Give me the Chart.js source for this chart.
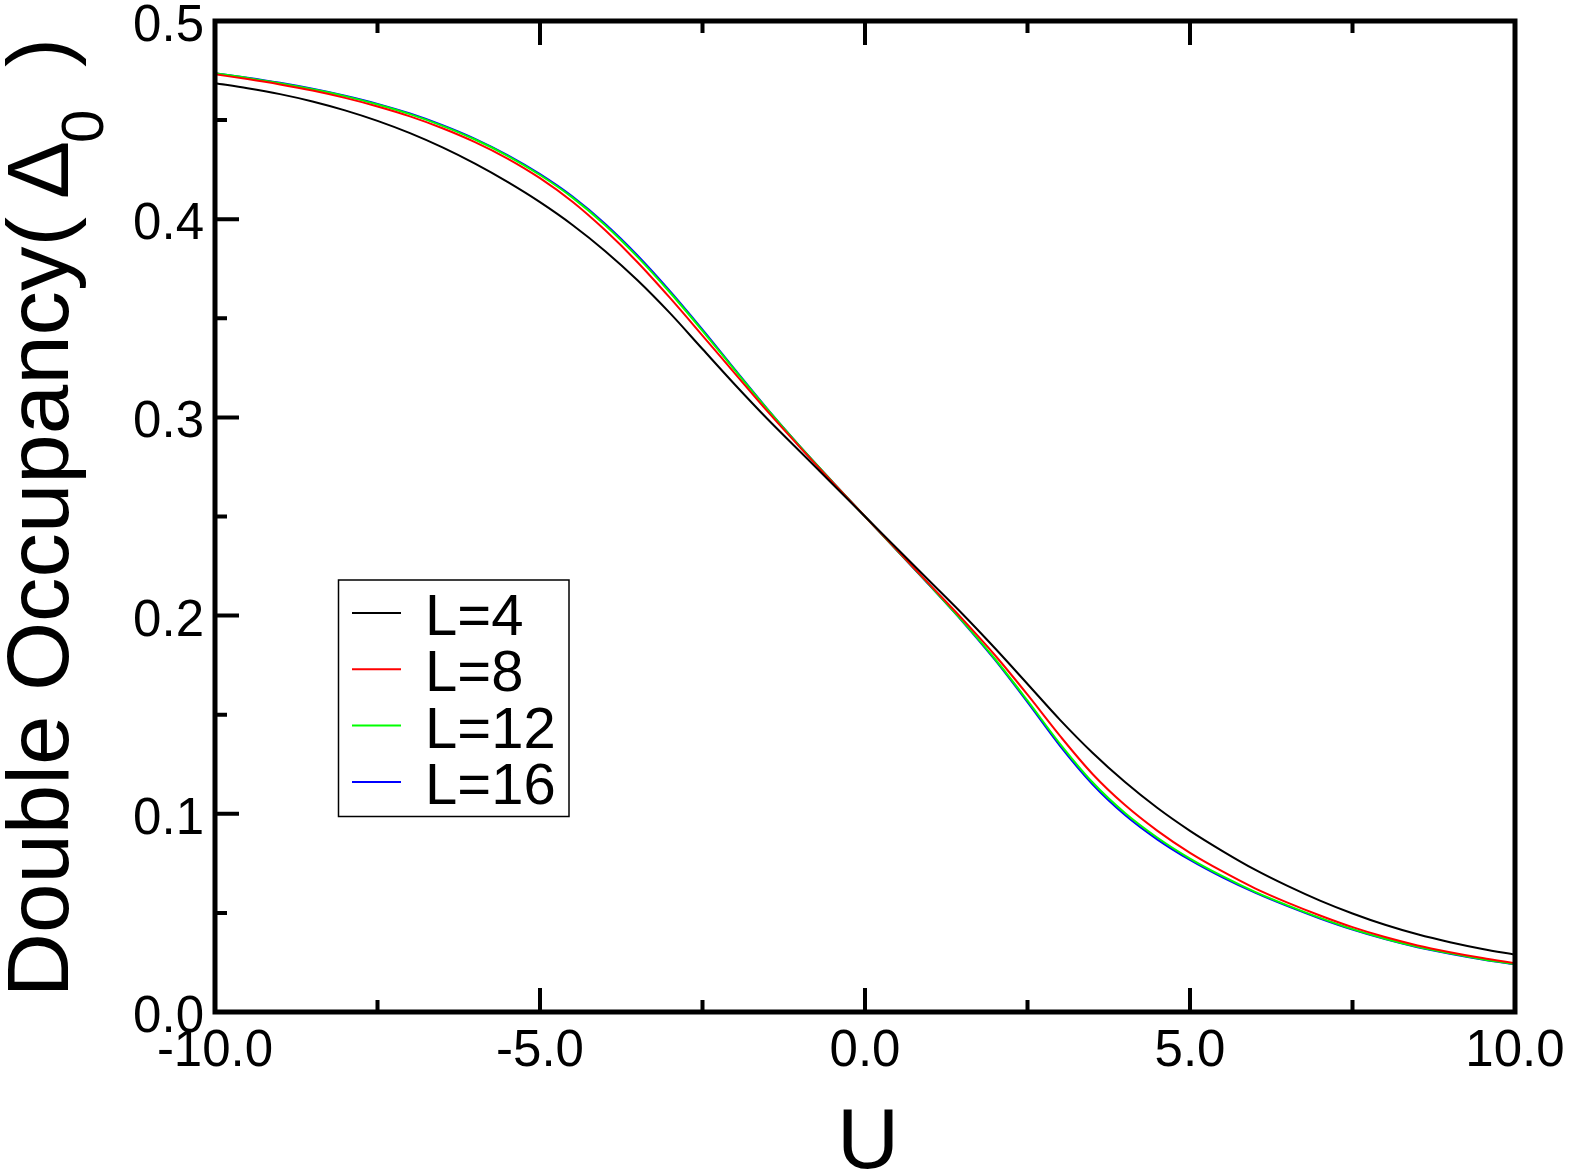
<!DOCTYPE html>
<html>
<head>
<meta charset="utf-8">
<script src="https://cdn.jsdelivr.net/npm/chart.js@4.4.0/dist/chart.umd.min.js"></script>
<style>
  html, body { margin: 0; padding: 0; background: #fff; }
  #wrap { width: 1571px; height: 1173px; }
</style>
</head>
<body>
<div id="wrap"><canvas id="chart" width="1571" height="1173"></canvas></div>
<script>
"use strict";

// U values (x axis)
const uValues = [-10, -9.5, -9, -8.5, -8, -7.5, -7, -6.5, -6, -5.5, -5, -4.5, -4, -3.5, -3, -2.5, -2, -1.5, -1, -0.5,
                 0, 0.5, 1, 1.5, 2, 2.5, 3, 3.5, 4, 4.5, 5, 5.5, 6, 6.5, 7, 7.5, 8, 8.5, 9, 9.5, 10];

// double occupancy
const occL4 = [0.4686, 0.4661, 0.4631, 0.4594, 0.4549, 0.4496, 0.4434, 0.4362, 0.4280, 0.4188, 0.4086, 0.3971, 0.3840, 0.3692, 0.3526, 0.3345, 0.3165, 0.2992, 0.2828, 0.2664,
               0.2500, 0.2336, 0.2172, 0.2008, 0.1835, 0.1655, 0.1474, 0.1308, 0.1160, 0.1029, 0.0914, 0.0812, 0.0718, 0.0636, 0.0562, 0.0497, 0.0440, 0.0392, 0.0352, 0.0318, 0.0289];
const occL8 = [0.4731, 0.4707, 0.4680, 0.4649, 0.4612, 0.4569, 0.4519, 0.4459, 0.4389, 0.4306, 0.4207, 0.4088, 0.3945, 0.3783, 0.3603, 0.3413, 0.3221, 0.3030, 0.2849, 0.2673,
               0.2500, 0.2328, 0.2155, 0.1982, 0.1800, 0.1601, 0.1393, 0.1201, 0.1044, 0.0914, 0.0803, 0.0709, 0.0624, 0.0552, 0.0487, 0.0428, 0.0378, 0.0336, 0.0302, 0.0272, 0.0246];
const occL12 = [0.4736, 0.4713, 0.4686, 0.4656, 0.4621, 0.4579, 0.4530, 0.4471, 0.4402, 0.4320, 0.4223, 0.4109, 0.3971, 0.3810, 0.3630, 0.3437, 0.3237, 0.3040, 0.2853, 0.2675,
                0.2500, 0.2326, 0.2151, 0.1972, 0.1781, 0.1571, 0.1353, 0.1159, 0.1004, 0.0879, 0.0774, 0.0685, 0.0606, 0.0538, 0.0475, 0.0418, 0.0370, 0.0329, 0.0296, 0.0266, 0.0241];
const occL16 = [0.4737, 0.4714, 0.4688, 0.4658, 0.4623, 0.4582, 0.4533, 0.4474, 0.4405, 0.4323, 0.4227, 0.4114, 0.3977, 0.3817, 0.3637, 0.3443, 0.3241, 0.3042, 0.2854, 0.2675,
                0.2500, 0.2326, 0.2150, 0.1970, 0.1776, 0.1563, 0.1343, 0.1149, 0.0994, 0.0870, 0.0767, 0.0679, 0.0602, 0.0534, 0.0472, 0.0416, 0.0368, 0.0327, 0.0294, 0.0265, 0.0240];

const seriesLabels = ['L=4', 'L=8', 'L=12', 'L=16'];
const seriesValues = [occL4, occL8, occL12, occL16];
const seriesColors = ['#000000', '#ff0000', '#00ff00', '#0000ff'];

const xTicks = [-10, -5, 0, 5, 10];
const yTicks = [0, 0.1, 0.2, 0.3, 0.4, 0.5];

const FONT = '"Liberation Sans", Arial, Helvetica, sans-serif';

// box frame, inward ticks on left, bottom and top, tick labels
const framePlugin = {
  id: 'frame',
  afterDatasetsDraw(chart) {
    const ctx = chart.ctx, a = chart.chartArea;
    const xs = chart.scales.x, ys = chart.scales.y;
    ctx.save();
    ctx.strokeStyle = '#000';
    ctx.lineWidth = 5;
    ctx.strokeRect(a.left, a.top, a.right - a.left, a.bottom - a.top);
    ctx.lineWidth = 4;
    ctx.beginPath();
    for (let i = 0; i <= 8; i++) {
      const x = xs.getPixelForValue(-10 + i * 2.5);
      const len = (i % 2 === 0) ? 24 : 12;
      ctx.moveTo(x, a.bottom); ctx.lineTo(x, a.bottom - len);
      ctx.moveTo(x, a.top); ctx.lineTo(x, a.top + len);
    }
    for (let i = 0; i <= 10; i++) {
      const y = ys.getPixelForValue(i * 0.05);
      const len = (i % 2 === 0) ? 24 : 12;
      ctx.moveTo(a.left, y); ctx.lineTo(a.left + len, y);
    }
    ctx.stroke();

    ctx.fillStyle = '#000';
    ctx.font = '51px ' + FONT;
    ctx.textBaseline = 'alphabetic';
    ctx.textAlign = 'right';
    yTicks.forEach(function(v) {
      ctx.fillText(v.toFixed(1), 204, ys.getPixelForValue(v) + 20);
    });
    ctx.textAlign = 'center';
    xTicks.forEach(function(u) {
      ctx.fillText(u.toFixed(1), xs.getPixelForValue(u), 1066);
    });
    ctx.restore();
  }
};

// axis titles and boxed legend
const labelsPlugin = {
  id: 'labels',
  afterDraw(chart) {
    const ctx = chart.ctx;
    ctx.save();
    ctx.fillStyle = '#000';
    ctx.textBaseline = 'alphabetic';

    // x title
    ctx.font = '86px ' + FONT;
    ctx.textAlign = 'center';
    ctx.fillText('U', 868, 1168);

    // y title, rotated, with subscript
    ctx.save();
    ctx.translate(68, 0);
    ctx.rotate(-Math.PI / 2);
    ctx.textAlign = 'left';
    ctx.font = '87px ' + FONT;
    const main = 'Double Occupancy(';
    const m = ctx.measureText(main);
    const ink = m.actualBoundingBoxLeft + m.actualBoundingBoxRight;
    const sx = (990 - 217) / ink;
    ctx.save();
    ctx.translate(-990, 0);
    ctx.scale(sx, 1);
    ctx.fillText(main, m.actualBoundingBoxLeft, 0);
    ctx.restore();
    ctx.fillText('\u0394', -199, 0);
    ctx.font = '60px ' + FONT;
    ctx.fillText('0', -143, 35);
    ctx.font = '87px ' + FONT;
    ctx.fillText(')', -67, 0);
    ctx.restore();

    // legend
    ctx.strokeStyle = '#000';
    ctx.lineWidth = 1.5;
    ctx.strokeRect(338.5, 580, 230.5, 236.5);
    ctx.textAlign = 'left';
    ctx.font = '58px ' + FONT;
    chart.data.datasets.forEach(function(ds, i) {
      const y = 613 + i * 56.3;
      ctx.strokeStyle = ds.borderColor;
      ctx.lineWidth = 2;
      ctx.beginPath();
      ctx.moveTo(352, y);
      ctx.lineTo(401, y);
      ctx.stroke();
      ctx.fillText(ds.label, 425, y + 22);
    });
    ctx.restore();
  }
};

const datasets = [];
for (let i = 0; i < seriesLabels.length; i++) {
  datasets.push({
    label: seriesLabels[i],
    data: uValues.map(function(u, j) { return {x: u, y: seriesValues[i][j]}; }),
    borderColor: seriesColors[i],
    backgroundColor: seriesColors[i],
    borderWidth: 2,
    pointRadius: 0,
    fill: false,
    cubicInterpolationMode: 'monotone'
  });
}

new Chart(document.getElementById('chart'), {
  type: 'line',
  data: { datasets: datasets },
  options: {
    responsive: false,
    animation: false,
    layout: { padding: { left: 0, right: 56, top: 21, bottom: 0 } },
    plugins: { legend: { display: false }, tooltip: { enabled: false } },
    scales: {
      x: {
        type: 'linear', min: -10, max: 10,
        afterFit: function(s) { s.height = 161; },
        grid: { display: false, drawTicks: false },
        border: { display: false },
        ticks: { display: false }
      },
      y: {
        type: 'linear', min: 0, max: 0.5,
        afterFit: function(s) { s.width = 215; },
        grid: { display: false, drawTicks: false },
        border: { display: false },
        ticks: { display: false }
      }
    }
  },
  plugins: [framePlugin, labelsPlugin]
});
</script>
</body>
</html>
